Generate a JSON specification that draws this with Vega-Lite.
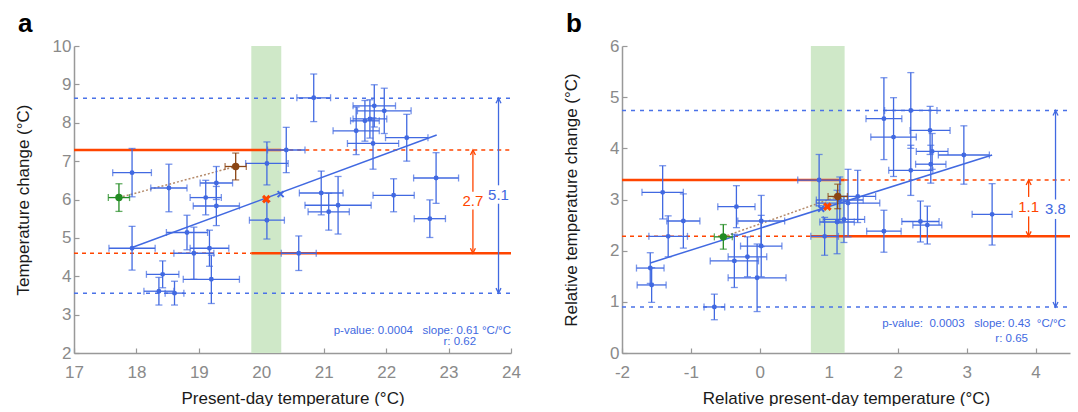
{
  "$schema": "https://vega.github.io/schema/vega-lite/v6.json",
  "padding": {"left": 14, "top": 11, "right": 5, "bottom": 0},
  "background": "white",
  "config": {
    "view": {"stroke": null},
    "font": "Liberation Sans",
    "axis": {
      "grid": false, "domainColor": "#999999", "domainWidth": 1.5, "tickColor": "#999999", "tickWidth": 1.2, "tickSize": -5,
      "labelColor": "#8a8a8a", "labelFontSize": 17, "labelFont": "Liberation Sans", "labelPadding": 8,
      "labelFlush": false, "labelOverlap": false, "labelBound": false, "format": "d",
      "titleColor": "#1a1a1a", "titleFontSize": 17, "titleFontWeight": "normal", "titleFont": "Liberation Sans"
    },
    "axisY": {"minExtent": 30, "maxExtent": 30, "titlePadding": 12, "labelBaseline": "middle"},
    "axisX": {"labelPadding": 16, "titlePadding": 10},
    "title": {"fontSize": 26, "fontWeight": "bold", "font": "Liberation Sans", "color": "#000000", "anchor": "start", "frame": "group"}
  },
  "spacing": 41,
  "hconcat": [
    {
      "width": 437, "height": 307,
      "title": {"text": "a", "dx": -56, "offset": 5, "dy": 5},
      "layer": [
        {
          "data": {"values": [{"x1": 19.84, "x2": 20.32}]},
          "mark": {"type": "rect", "color": "#cfe8c8"},
          "encoding": {
            "x": {"field": "x1", "type": "quantitative", "scale": {"domain": [17, 24], "nice": false, "zero": false},
                  "axis": {"title": "Present-day temperature (°C)", "values": [17, 18, 19, 20, 21, 22, 23, 24], "labelOverlap": false}},
            "x2": {"field": "x2"},
            "y": {"datum": 2, "type": "quantitative", "scale": {"domain": [2, 10], "nice": false, "zero": false},
                  "axis": {"title": "Temperature change (°C)", "tickCount": 8, "tickMinStep": 1, "labelOverlap": false}},
            "y2": {"datum": 10}
          }
        },
        {
          "data": {"values": [{"x1": 17, "x2": 24, "y": 8.64}, {"x1": 17, "x2": 24, "y": 3.56}]},
          "mark": {"type": "rule", "color": "#4a72e8", "strokeWidth": 1.5, "strokeDash": [4, 5]},
          "encoding": {"x": {"field": "x1", "type": "quantitative"}, "x2": {"field": "x2"}, "y": {"field": "y", "type": "quantitative"}}
        },
        {
          "data": {"values": [{"x1": 20.32, "x2": 24, "y": 7.29}, {"x1": 17, "x2": 19.84, "y": 4.6}]},
          "mark": {"type": "rule", "color": "#ff4500", "strokeWidth": 1.5, "strokeDash": [4, 4]},
          "encoding": {"x": {"field": "x1", "type": "quantitative"}, "x2": {"field": "x2"}, "y": {"field": "y", "type": "quantitative"}}
        },
        {
          "data": {"values": [{"x1": 17, "x2": 20.32, "y": 7.29}, {"x1": 19.84, "x2": 24, "y": 4.6}]},
          "mark": {"type": "rule", "color": "#ff4500", "strokeWidth": 2.5},
          "encoding": {"x": {"field": "x1", "type": "quantitative"}, "x2": {"field": "x2"}, "y": {"field": "y", "type": "quantitative"}}
        },
        {
          "data": {"values": [{"x1": 17.72, "y1": 6.05, "x2": 19.59, "y2": 6.86}]},
          "mark": {"type": "rule", "color": "#b58b6b", "strokeWidth": 1.5, "strokeDash": [2, 2]},
          "encoding": {"x": {"field": "x1", "type": "quantitative"}, "x2": {"field": "x2"}, "y": {"field": "y1", "type": "quantitative"}, "y2": {"field": "y2"}}
        },
        {
          "data": {"values": [
            {"x": 17.93, "xe": 0.31, "y": 6.70, "ye": 0.63},
            {"x": 18.52, "xe": 0.29, "y": 6.30, "ye": 0.62},
            {"x": 17.93, "xe": 0.37, "y": 4.73, "ye": 0.57},
            {"x": 19.11, "xe": 0.25, "y": 6.05, "ye": 0.45},
            {"x": 19.28, "xe": 0.26, "y": 6.43, "ye": 0.43},
            {"x": 19.28, "xe": 0.37, "y": 5.83, "ye": 0.51},
            {"x": 18.81, "xe": 0.33, "y": 5.14, "ye": 0.45},
            {"x": 19.17, "xe": 0.31, "y": 4.73, "ye": 0.47},
            {"x": 18.92, "xe": 0.32, "y": 4.60, "ye": 0.68},
            {"x": 18.42, "xe": 0.26, "y": 4.05, "ye": 0.35},
            {"x": 18.36, "xe": 0.24, "y": 3.61, "ye": 0.36},
            {"x": 18.61, "xe": 0.15, "y": 3.56, "ye": 0.31},
            {"x": 19.20, "xe": 0.45, "y": 3.92, "ye": 0.63},
            {"x": 20.09, "xe": 0.34, "y": 6.94, "ye": 0.56},
            {"x": 20.09, "xe": 0.28, "y": 5.46, "ye": 0.49},
            {"x": 20.84, "xe": 0.27, "y": 8.65, "ye": 0.62},
            {"x": 20.40, "xe": 0.30, "y": 7.29, "ye": 0.59},
            {"x": 20.60, "xe": 0.28, "y": 4.60, "ye": 0.45},
            {"x": 20.96, "xe": 0.35, "y": 6.17, "ye": 0.57},
            {"x": 21.08, "xe": 0.33, "y": 5.68, "ye": 0.48},
            {"x": 21.23, "xe": 0.53, "y": 5.85, "ye": 0.75},
            {"x": 22.12, "xe": 0.33, "y": 6.11, "ye": 0.43},
            {"x": 22.80, "xe": 0.36, "y": 6.56, "ye": 0.66},
            {"x": 22.70, "xe": 0.25, "y": 5.50, "ye": 0.49},
            {"x": 22.33, "xe": 0.34, "y": 7.61, "ye": 0.61},
            {"x": 21.52, "xe": 0.37, "y": 7.79, "ye": 0.62},
            {"x": 21.81, "xe": 0.34, "y": 8.44, "ye": 0.55},
            {"x": 21.97, "xe": 0.43, "y": 8.31, "ye": 0.59},
            {"x": 21.74, "xe": 0.27, "y": 8.10, "ye": 0.50},
            {"x": 21.66, "xe": 0.23, "y": 8.05, "ye": 0.53},
            {"x": 21.79, "xe": 0.41, "y": 7.46, "ye": 0.67}
          ]},
          "layer": [
            {"mark": {"type": "errorbar", "ticks": {"size": 7}, "thickness": 1.3, "color": "#4169e1"},
             "encoding": {"x": {"field": "x", "type": "quantitative", "title": "Present-day temperature (°C)"}, "xError": {"field": "xe"}, "y": {"field": "y", "type": "quantitative", "title": "Temperature change (°C)"}}},
            {"mark": {"type": "errorbar", "ticks": {"size": 7}, "thickness": 1.3, "color": "#4169e1"},
             "encoding": {"y": {"field": "y", "type": "quantitative", "title": "Temperature change (°C)"}, "yError": {"field": "ye"}, "x": {"field": "x", "type": "quantitative", "title": "Present-day temperature (°C)"}}},
            {"mark": {"type": "point", "filled": true, "opacity": 1, "size": 24, "color": "#4169e1"},
             "encoding": {"x": {"field": "x", "type": "quantitative"}, "y": {"field": "y", "type": "quantitative"}}}
          ]
        },
        {
          "data": {"values": [{"x1": 17.93, "y1": 4.75, "x2": 22.81, "y2": 7.68}]},
          "mark": {"type": "rule", "color": "#4169e1", "strokeWidth": 1.5},
          "encoding": {"x": {"field": "x1", "type": "quantitative"}, "x2": {"field": "x2"}, "y": {"field": "y1", "type": "quantitative"}, "y2": {"field": "y2"}}
        },
        {
          "data": {"values": [{"x": 17.72, "xe": 0.17, "y": 6.05, "ye": 0.36}]},
          "layer": [
            {"mark": {"type": "errorbar", "ticks": {"size": 7}, "thickness": 1.3, "color": "#228b22"},
             "encoding": {"x": {"field": "x", "type": "quantitative", "title": "Present-day temperature (°C)"}, "xError": {"field": "xe"}, "y": {"field": "y", "type": "quantitative", "title": "Temperature change (°C)"}}},
            {"mark": {"type": "errorbar", "ticks": {"size": 7}, "thickness": 1.3, "color": "#228b22"},
             "encoding": {"y": {"field": "y", "type": "quantitative", "title": "Temperature change (°C)"}, "yError": {"field": "ye"}, "x": {"field": "x", "type": "quantitative", "title": "Present-day temperature (°C)"}}},
            {"mark": {"type": "point", "filled": true, "opacity": 1, "size": 55, "color": "#228b22"},
             "encoding": {"x": {"field": "x", "type": "quantitative"}, "y": {"field": "y", "type": "quantitative"}}}
          ]
        },
        {
          "data": {"values": [{"x": 19.59, "xe": 0.17, "y": 6.86, "ye": 0.35}]},
          "layer": [
            {"mark": {"type": "errorbar", "ticks": {"size": 7}, "thickness": 1.3, "color": "#8b4513"},
             "encoding": {"x": {"field": "x", "type": "quantitative", "title": "Present-day temperature (°C)"}, "xError": {"field": "xe"}, "y": {"field": "y", "type": "quantitative", "title": "Temperature change (°C)"}}},
            {"mark": {"type": "errorbar", "ticks": {"size": 7}, "thickness": 1.3, "color": "#8b4513"},
             "encoding": {"y": {"field": "y", "type": "quantitative", "title": "Temperature change (°C)"}, "yError": {"field": "ye"}, "x": {"field": "x", "type": "quantitative", "title": "Present-day temperature (°C)"}}},
            {"mark": {"type": "point", "filled": true, "opacity": 1, "size": 55, "color": "#8b4513"},
             "encoding": {"x": {"field": "x", "type": "quantitative"}, "y": {"field": "y", "type": "quantitative"}}}
          ]
        },
        {
          "data": {"values": [{"x": 20.31, "y": 6.14}]},
          "mark": {"type": "point", "shape": "M-1,-1L1,1M-1,1L1,-1", "filled": false, "opacity": 1, "size": 36, "strokeWidth": 2, "color": "#4169e1"},
          "encoding": {"x": {"field": "x", "type": "quantitative"}, "y": {"field": "y", "type": "quantitative"}}
        },
        {
          "data": {"values": [{"x": 20.08, "y": 6.01}]},
          "mark": {"type": "point", "shape": "M-1,-1L1,1M-1,1L1,-1", "filled": false, "opacity": 1, "size": 42, "strokeWidth": 3, "color": "#ff4500"},
          "encoding": {"x": {"field": "x", "type": "quantitative"}, "y": {"field": "y", "type": "quantitative"}}
        },
        {
          "data": {"values": [
            {"x": 23.39, "top": 7.29, "bottom": 4.6, "gapTop": 6.2, "gapBottom": 5.74, "mid": 5.97, "label": "2.7", "range": "constrained"},
            {"x": 23.80, "top": 8.64, "bottom": 3.56, "gapTop": 6.37, "gapBottom": 5.89, "mid": 6.13, "label": "5.1", "range": "full"}
          ]},
          "layer": [
            {"mark": {"type": "rule", "strokeWidth": 1.3},
             "encoding": {"x": {"field": "x", "type": "quantitative"}, "y": {"field": "top", "type": "quantitative"}, "y2": {"field": "gapTop"},
                          "color": {"field": "range", "type": "nominal", "scale": {"domain": ["constrained", "full"], "range": ["#ff4500", "#4169e1"]}, "legend": null}}},
            {"mark": {"type": "rule", "strokeWidth": 1.3},
             "encoding": {"x": {"field": "x", "type": "quantitative"}, "y": {"field": "gapBottom", "type": "quantitative"}, "y2": {"field": "bottom"},
                          "color": {"field": "range", "type": "nominal", "legend": null}}},
            {"mark": {"type": "point", "shape": "M-0.5,1L0,0L0.5,1", "filled": false, "opacity": 1, "size": 100, "strokeWidth": 1.3},
             "encoding": {"x": {"field": "x", "type": "quantitative"}, "y": {"field": "top", "type": "quantitative"},
                          "color": {"field": "range", "type": "nominal", "legend": null}}},
            {"mark": {"type": "point", "shape": "M-0.5,-1L0,0L0.5,-1", "filled": false, "opacity": 1, "size": 100, "strokeWidth": 1.3},
             "encoding": {"x": {"field": "x", "type": "quantitative"}, "y": {"field": "bottom", "type": "quantitative"},
                          "color": {"field": "range", "type": "nominal", "legend": null}}},
            {"mark": {"type": "text", "fontSize": 15, "align": "center", "baseline": "middle"},
             "encoding": {"x": {"field": "x", "type": "quantitative"}, "y": {"field": "mid", "type": "quantitative"}, "text": {"field": "label"},
                          "color": {"field": "range", "type": "nominal", "legend": null}}}
          ]
        },
        {
          "data": {"values": [
            {"x": 24.0, "y": 2.49, "text": "p-value: 0.0004\u00a0\u00a0 slope: 0.61 °C/°C"},
            {"x": 23.44, "y": 2.2, "text": "r: 0.62"}
          ]},
          "mark": {"type": "text", "fontSize": 11.5, "align": "right", "baseline": "alphabetic", "color": "#4169e1"},
          "encoding": {"x": {"field": "x", "type": "quantitative"}, "y": {"field": "y", "type": "quantitative"}, "text": {"field": "text"}}
        }
      ]
    },
    {
      "width": 448, "height": 307,
      "title": {"text": "b", "dx": -56, "offset": 5, "dy": 5},
      "layer": [
        {
          "data": {"values": [{"x1": 0.74, "x2": 1.23}]},
          "mark": {"type": "rect", "color": "#cfe8c8"},
          "encoding": {
            "x": {"field": "x1", "type": "quantitative", "scale": {"domain": [-2, 4.5], "nice": false, "zero": false},
                  "axis": {"title": "Relative present-day temperature (°C)", "values": [-2, -1, 0, 1, 2, 3, 4], "labelOverlap": false, "labelExpr": "replace(datum.label, '−', '-')"}},
            "x2": {"field": "x2"},
            "y": {"datum": 0, "type": "quantitative", "scale": {"domain": [0, 6], "nice": false, "zero": false},
                  "axis": {"title": "Relative temperature change (°C)", "values": [0, 1, 2, 3, 4, 5, 6], "labelOverlap": false}},
            "y2": {"datum": 6}
          }
        },
        {
          "data": {"values": [{"x1": -2, "x2": 4.5, "y": 4.74}, {"x1": -2, "x2": 4.5, "y": 0.9}]},
          "mark": {"type": "rule", "color": "#4a72e8", "strokeWidth": 1.5, "strokeDash": [4, 5]},
          "encoding": {"x": {"field": "x1", "type": "quantitative"}, "x2": {"field": "x2"}, "y": {"field": "y", "type": "quantitative"}}
        },
        {
          "data": {"values": [{"x1": 1.23, "x2": 4.5, "y": 3.38}, {"x1": -2, "x2": 0.74, "y": 2.28}]},
          "mark": {"type": "rule", "color": "#ff4500", "strokeWidth": 1.5, "strokeDash": [4, 4]},
          "encoding": {"x": {"field": "x1", "type": "quantitative"}, "x2": {"field": "x2"}, "y": {"field": "y", "type": "quantitative"}}
        },
        {
          "data": {"values": [{"x1": -2, "x2": 1.23, "y": 3.38}, {"x1": 0.74, "x2": 4.5, "y": 2.28}]},
          "mark": {"type": "rule", "color": "#ff4500", "strokeWidth": 2.5},
          "encoding": {"x": {"field": "x1", "type": "quantitative"}, "x2": {"field": "x2"}, "y": {"field": "y", "type": "quantitative"}}
        },
        {
          "data": {"values": [{"x1": -0.53, "y1": 2.27, "x2": 1.13, "y2": 3.06}]},
          "mark": {"type": "rule", "color": "#b58b6b", "strokeWidth": 1.5, "strokeDash": [2, 2]},
          "encoding": {"x": {"field": "x1", "type": "quantitative"}, "x2": {"field": "x2"}, "y": {"field": "y1", "type": "quantitative"}, "y2": {"field": "y2"}}
        },
        {
          "data": {"values": [
            {"x": -1.41, "xe": 0.30, "y": 3.14, "ye": 0.52},
            {"x": -1.11, "xe": 0.24, "y": 2.58, "ye": 0.53},
            {"x": -1.33, "xe": 0.28, "y": 2.28, "ye": 0.40},
            {"x": -1.59, "xe": 0.20, "y": 1.66, "ye": 0.30},
            {"x": -1.57, "xe": 0.21, "y": 1.33, "ye": 0.34},
            {"x": -0.34, "xe": 0.27, "y": 2.86, "ye": 0.41},
            {"x": 0.02, "xe": 0.34, "y": 2.58, "ye": 0.50},
            {"x": 0.02, "xe": 0.30, "y": 2.09, "ye": 0.60},
            {"x": -0.37, "xe": 0.35, "y": 1.80, "ye": 0.52},
            {"x": -0.18, "xe": 0.28, "y": 1.88, "ye": 0.39},
            {"x": -0.04, "xe": 0.42, "y": 1.47, "ye": 0.66},
            {"x": -0.66, "xe": 0.15, "y": 0.90, "ye": 0.25},
            {"x": 0.86, "xe": 0.31, "y": 3.38, "ye": 0.50},
            {"x": 1.42, "xe": 0.26, "y": 3.06, "ye": 0.51},
            {"x": 1.28, "xe": 0.46, "y": 2.93, "ye": 0.66},
            {"x": 1.16, "xe": 0.34, "y": 2.99, "ye": 0.45},
            {"x": 1.22, "xe": 0.30, "y": 2.61, "ye": 0.45},
            {"x": 1.12, "xe": 0.25, "y": 2.56, "ye": 0.62},
            {"x": 0.94, "xe": 0.20, "y": 2.28, "ye": 0.37},
            {"x": 1.80, "xe": 0.25, "y": 2.38, "ye": 0.41},
            {"x": 1.80, "xe": 0.26, "y": 4.58, "ye": 0.80},
            {"x": 2.19, "xe": 0.38, "y": 4.74, "ye": 0.74},
            {"x": 1.94, "xe": 0.33, "y": 4.22, "ye": 0.77},
            {"x": 2.47, "xe": 0.29, "y": 4.35, "ye": 0.47},
            {"x": 2.50, "xe": 0.23, "y": 3.94, "ye": 0.35},
            {"x": 2.48, "xe": 0.22, "y": 3.69, "ye": 0.37},
            {"x": 2.96, "xe": 0.37, "y": 3.87, "ye": 0.57},
            {"x": 2.19, "xe": 0.32, "y": 3.57, "ye": 0.49},
            {"x": 3.37, "xe": 0.29, "y": 2.71, "ye": 0.60},
            {"x": 2.33, "xe": 0.27, "y": 2.57, "ye": 0.40},
            {"x": 2.43, "xe": 0.21, "y": 2.50, "ye": 0.37}
          ]},
          "layer": [
            {"mark": {"type": "errorbar", "ticks": {"size": 7}, "thickness": 1.3, "color": "#4169e1"},
             "encoding": {"x": {"field": "x", "type": "quantitative", "title": "Relative present-day temperature (°C)"}, "xError": {"field": "xe"}, "y": {"field": "y", "type": "quantitative", "title": "Relative temperature change (°C)"}}},
            {"mark": {"type": "errorbar", "ticks": {"size": 7}, "thickness": 1.3, "color": "#4169e1"},
             "encoding": {"y": {"field": "y", "type": "quantitative", "title": "Relative temperature change (°C)"}, "yError": {"field": "ye"}, "x": {"field": "x", "type": "quantitative", "title": "Relative present-day temperature (°C)"}}},
            {"mark": {"type": "point", "filled": true, "opacity": 1, "size": 24, "color": "#4169e1"},
             "encoding": {"x": {"field": "x", "type": "quantitative"}, "y": {"field": "y", "type": "quantitative"}}}
          ]
        },
        {
          "data": {"values": [{"x1": -1.59, "y1": 1.76, "x2": 3.37, "y2": 3.87}]},
          "mark": {"type": "rule", "color": "#4169e1", "strokeWidth": 1.5},
          "encoding": {"x": {"field": "x1", "type": "quantitative"}, "x2": {"field": "x2"}, "y": {"field": "y1", "type": "quantitative"}, "y2": {"field": "y2"}}
        },
        {
          "data": {"values": [{"x": -0.53, "xe": 0.13, "y": 2.27, "ye": 0.24}]},
          "layer": [
            {"mark": {"type": "errorbar", "ticks": {"size": 7}, "thickness": 1.3, "color": "#228b22"},
             "encoding": {"x": {"field": "x", "type": "quantitative", "title": "Relative present-day temperature (°C)"}, "xError": {"field": "xe"}, "y": {"field": "y", "type": "quantitative", "title": "Relative temperature change (°C)"}}},
            {"mark": {"type": "errorbar", "ticks": {"size": 7}, "thickness": 1.3, "color": "#228b22"},
             "encoding": {"y": {"field": "y", "type": "quantitative", "title": "Relative temperature change (°C)"}, "yError": {"field": "ye"}, "x": {"field": "x", "type": "quantitative", "title": "Relative present-day temperature (°C)"}}},
            {"mark": {"type": "point", "filled": true, "opacity": 1, "size": 55, "color": "#228b22"},
             "encoding": {"x": {"field": "x", "type": "quantitative"}, "y": {"field": "y", "type": "quantitative"}}}
          ]
        },
        {
          "data": {"values": [{"x": 1.13, "xe": 0.14, "y": 3.06, "ye": 0.24}]},
          "layer": [
            {"mark": {"type": "errorbar", "ticks": {"size": 7}, "thickness": 1.3, "color": "#8b4513"},
             "encoding": {"x": {"field": "x", "type": "quantitative", "title": "Relative present-day temperature (°C)"}, "xError": {"field": "xe"}, "y": {"field": "y", "type": "quantitative", "title": "Relative temperature change (°C)"}}},
            {"mark": {"type": "errorbar", "ticks": {"size": 7}, "thickness": 1.3, "color": "#8b4513"},
             "encoding": {"y": {"field": "y", "type": "quantitative", "title": "Relative temperature change (°C)"}, "yError": {"field": "ye"}, "x": {"field": "x", "type": "quantitative", "title": "Relative present-day temperature (°C)"}}},
            {"mark": {"type": "point", "filled": true, "opacity": 1, "size": 55, "color": "#8b4513"},
             "encoding": {"x": {"field": "x", "type": "quantitative"}, "y": {"field": "y", "type": "quantitative"}}}
          ]
        },
        {
          "data": {"values": [{"x": 0.89, "y": 2.82}]},
          "mark": {"type": "point", "shape": "M-1,-1L1,1M-1,1L1,-1", "filled": false, "opacity": 1, "size": 36, "strokeWidth": 2, "color": "#4169e1"},
          "encoding": {"x": {"field": "x", "type": "quantitative"}, "y": {"field": "y", "type": "quantitative"}}
        },
        {
          "data": {"values": [{"x": 0.98, "y": 2.86}]},
          "mark": {"type": "point", "shape": "M-1,-1L1,1M-1,1L1,-1", "filled": false, "opacity": 1, "size": 42, "strokeWidth": 3, "color": "#ff4500"},
          "encoding": {"x": {"field": "x", "type": "quantitative"}, "y": {"field": "y", "type": "quantitative"}}
        },
        {
          "data": {"values": [
            {"x": 3.90, "top": 3.38, "bottom": 2.28, "gapTop": 3.05, "gapBottom": 2.67, "mid": 2.86, "label": "1.1", "range": "constrained"},
            {"x": 4.29, "top": 4.74, "bottom": 0.9, "gapTop": 3.0, "gapBottom": 2.62, "mid": 2.81, "label": "3.8", "range": "full"}
          ]},
          "layer": [
            {"mark": {"type": "rule", "strokeWidth": 1.3},
             "encoding": {"x": {"field": "x", "type": "quantitative"}, "y": {"field": "top", "type": "quantitative"}, "y2": {"field": "gapTop"},
                          "color": {"field": "range", "type": "nominal", "scale": {"domain": ["constrained", "full"], "range": ["#ff4500", "#4169e1"]}, "legend": null}}},
            {"mark": {"type": "rule", "strokeWidth": 1.3},
             "encoding": {"x": {"field": "x", "type": "quantitative"}, "y": {"field": "gapBottom", "type": "quantitative"}, "y2": {"field": "bottom"},
                          "color": {"field": "range", "type": "nominal", "legend": null}}},
            {"mark": {"type": "point", "shape": "M-0.5,1L0,0L0.5,1", "filled": false, "opacity": 1, "size": 100, "strokeWidth": 1.3},
             "encoding": {"x": {"field": "x", "type": "quantitative"}, "y": {"field": "top", "type": "quantitative"},
                          "color": {"field": "range", "type": "nominal", "legend": null}}},
            {"mark": {"type": "point", "shape": "M-0.5,-1L0,0L0.5,-1", "filled": false, "opacity": 1, "size": 100, "strokeWidth": 1.3},
             "encoding": {"x": {"field": "x", "type": "quantitative"}, "y": {"field": "bottom", "type": "quantitative"},
                          "color": {"field": "range", "type": "nominal", "legend": null}}},
            {"mark": {"type": "text", "fontSize": 15, "align": "center", "baseline": "middle"},
             "encoding": {"x": {"field": "x", "type": "quantitative"}, "y": {"field": "mid", "type": "quantitative"}, "text": {"field": "label"},
                          "color": {"field": "range", "type": "nominal", "legend": null}}}
          ]
        },
        {
          "data": {"values": [
            {"x": 4.44, "y": 0.51, "text": "p-value:\u00a0 0.0003\u00a0\u00a0 slope: 0.43\u00a0 °C/°C"},
            {"x": 3.89, "y": 0.21, "text": "r: 0.65"}
          ]},
          "mark": {"type": "text", "fontSize": 11.5, "align": "right", "baseline": "alphabetic", "color": "#4169e1"},
          "encoding": {"x": {"field": "x", "type": "quantitative"}, "y": {"field": "y", "type": "quantitative"}, "text": {"field": "text"}}
        }
      ]
    }
  ]
}
